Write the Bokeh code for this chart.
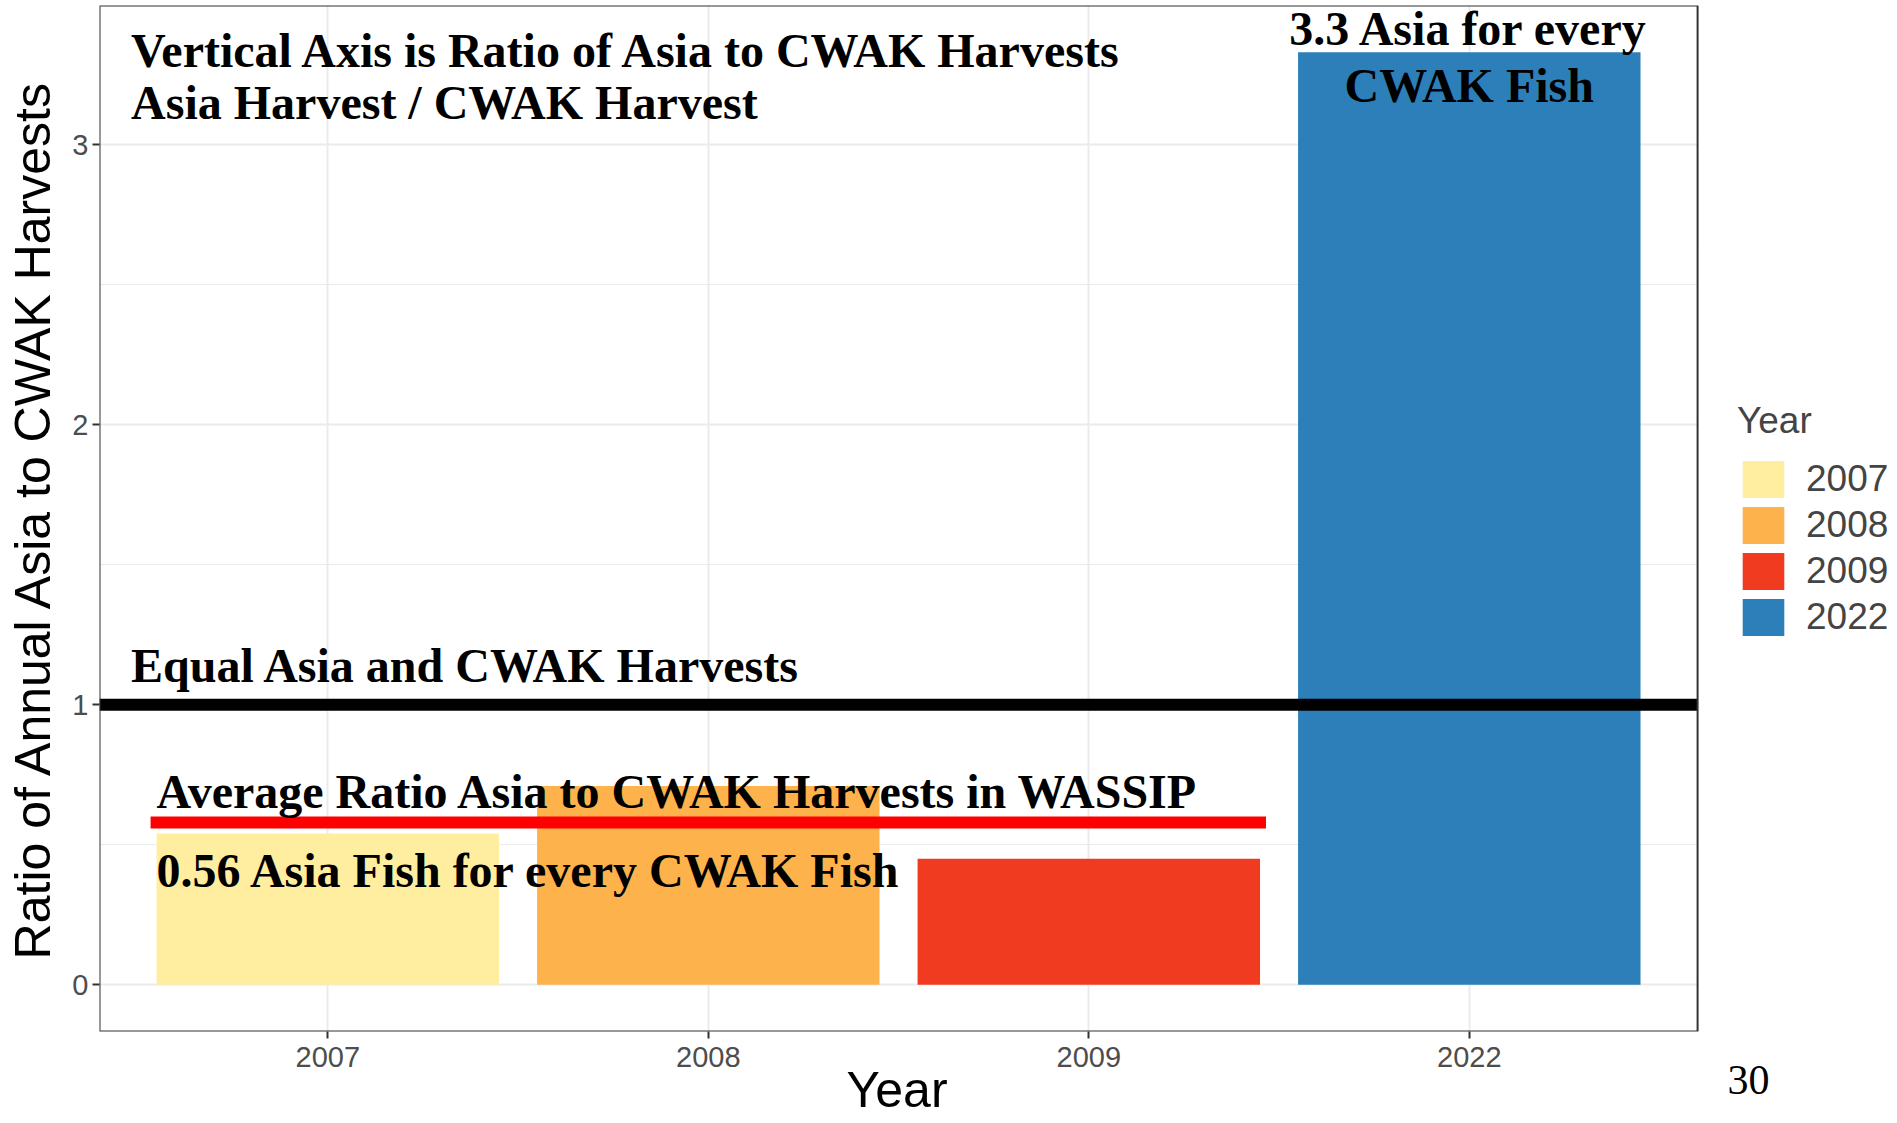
from bokeh.plotting import figure
from bokeh.models import (ColumnDataSource, FixedTicker, Legend, LegendItem,
                          BoxAnnotation, Title)
from bokeh.core.properties import value
from bokeh.embed import file_html
from bokeh.resources import INLINE

# ---- data ----
years = ["2007", "2008", "2009", "2022"]
ratios = [0.54, 0.71, 0.45, 3.33]
colors = ["#FFEDA0", "#FEB24C", "#F03B20", "#2C7FB8"]
equal_level = 1.0
wassip_avg = 0.58
y_ticks = [0, 1, 2, 3]

notes_top = ["Vertical Axis is Ratio of Asia to CWAK Harvests",
             "Asia Harvest / CWAK Harvest"]
note_equal = "Equal Asia and CWAK Harvests"
notes_avg = ["Average Ratio Asia to CWAK Harvests in WASSIP",
             "0.56 Asia Fish for every CWAK Fish"]
notes_2022 = ["3.3 Asia for every", "CWAK Fish"]
x_title = "Year"
y_title = "Ratio of Annual Asia to CWAK Harvests"
page_number = "30"

# panel extent (data units) and extended drawing area holding the legend
X0, X1 = 0.4, 4.6
Y0, Y1 = -0.1665, 3.4965
XEND = 5.1254

xpos = list(range(1, len(years) + 1))
src = ColumnDataSource(dict(x=xpos, year=years, ratio=ratios, color=colors))

p = figure(width=1897, height=1123, output_backend="svg", toolbar_location=None,
           x_range=(X0, XEND), y_range=(Y0, Y1),
           min_border_left=99, min_border_right=0, min_border_top=5,
           min_border_bottom=92)
p.background_fill_color = "white"
p.outline_line_color = None

bars = p.vbar(x="x", top="ratio", width=0.9, fill_color="color", line_color=None,
              source=src)

# WASSIP average line
p.segment(x0=[0.55], x1=[3.45], y0=[wassip_avg], y1=[wassip_avg],
          line_color="#FF0000", line_width=12, line_cap="square")
# equality line across the panel
p.segment(x0=[X0], x1=[X1], y0=[equal_level], y1=[equal_level],
          line_color="black", line_width=12)

serif = value("Liberation Serif")
fs = "48px"
common = dict(text_font=serif, text_font_style="bold", text_font_size=fs,
              text_baseline="middle", text_color="black")
p.text(x=[0.483, 0.483], y=[3.335, 3.151], text=notes_top, text_align="left", **common)
p.text(x=[0.483], y=[1.140], text=[note_equal], text_align="left", **common)
p.text(x=[0.55, 0.55], y=[0.690, 0.410], text=notes_avg, text_align="left", **common)
p.text(x=[4.0, 4.0], y=[3.415, 3.210], text=notes_2022, text_align="center", **common)

# axes
xa = p.xaxis[0]
xa.ticker = FixedTicker(ticks=xpos)
xa.major_label_overrides = {x: y for x, y in zip(xpos, years)}
ya = p.yaxis[0]
ya.ticker = FixedTicker(ticks=y_ticks, minor_ticks=[0.5, 1.5, 2.5, 3.5])
for ax in (xa, ya):
    ax.axis_line_color = None
    ax.major_tick_line_color = "#333333"
    ax.major_tick_line_width = 2
    ax.major_tick_out = 7
    ax.major_tick_in = 0
    ax.minor_tick_line_color = None
    ax.major_label_text_font = "Liberation Sans"
    ax.major_label_text_font_size = "29px"
    ax.major_label_text_color = "#4D4D4D"
    ax.axis_label_text_font = "Liberation Sans"
    ax.axis_label_text_font_size = "50px"
    ax.axis_label_text_font_style = "normal"
    ax.axis_label_text_color = "black"
ya.axis_label = y_title
xa.major_label_standoff = 8
ya.major_label_standoff = 4
ya.axis_label_standoff = 8

# page number and x title, placed in the bottom border
p.add_layout(Title(text=page_number, align="left", offset=1628, standoff=-7,
                   vertical_align="top", text_font="Liberation Serif",
                   text_font_size="42px", text_font_style="normal",
                   text_color="black"), "below")
p.add_layout(Title(text=x_title, align="left", offset=747, standoff=-61,
                   vertical_align="top", text_font="Liberation Sans",
                   text_font_size="50px", text_font_style="normal",
                   text_color="black"), "below")

p.xgrid.grid_line_color = "#EBEBEB"
p.xgrid.grid_line_width = 2
p.ygrid.grid_line_color = "#EBEBEB"
p.ygrid.grid_line_width = 2
p.ygrid.minor_grid_line_color = "#EBEBEB"
p.ygrid.minor_grid_line_width = 1

# blank the area right of the panel, then draw the panel border
p.add_layout(BoxAnnotation(left=X1, fill_color="white", fill_alpha=1.0,
                           line_color=None))
p.add_layout(BoxAnnotation(left=X0, right=X1, bottom=Y0, top=Y1,
                           fill_alpha=0, line_color="#333333", line_alpha=1.0,
                           line_width=2))

# legend
items = [LegendItem(label=y, renderers=[bars], index=i) for i, y in enumerate(years)]
legend = Legend(items=items, title="Year", location=(1638, 391),
                title_text_font="Liberation Sans", title_text_font_size="37px",
                title_text_font_style="normal", title_standoff=14,
                label_text_font="Liberation Sans", label_text_font_size="37px",
                glyph_width=52, glyph_height=46, spacing=0, label_standoff=17,
                padding=0, margin=0, border_line_color=None,
                background_fill_alpha=0)
p.add_layout(legend, "center")

open("out.html", "w").write(file_html(p, INLINE))
